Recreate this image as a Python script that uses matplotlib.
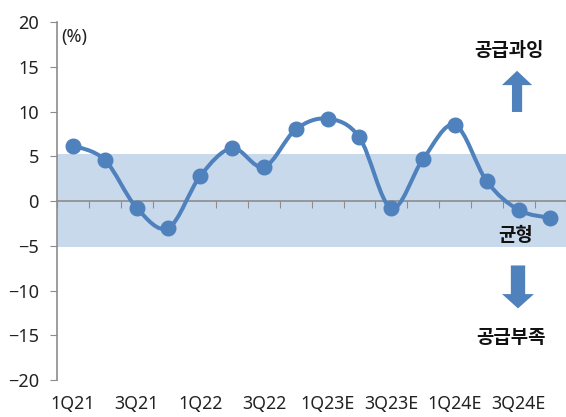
import matplotlib.pyplot as plt
from matplotlib.path import Path
from matplotlib.patches import PathPatch, FancyArrow
import numpy as np

quarters = ["1Q21", "2Q21", "3Q21", "4Q21", "1Q22", "2Q22", "3Q22", "4Q22",
            "1Q23E", "2Q23E", "3Q23E", "4Q23E", "1Q24E", "2Q24E", "3Q24E", "4Q24E"]
values = [6.2, 4.6, -0.75, -3.0, 2.8, 5.9, 3.8, 8.0,
          9.2, 7.1, -0.8, 4.7, 8.5, 2.2, -1.0, -1.9]
band_low, band_high = -5.1, 5.2
y_ticks = [-20, -15, -10, -5, 0, 5, 10, 15, 20]

blue = "#4F81BD"
band_color = "#C9D9EC"
axis_gray = "#8C8C8C"

plt.rcParams['font.family'] = ['Noto Sans', 'DejaVu Sans']


def smooth_path(xs, ys):
    # Catmull-Rom curve turned into cubic Bezier segments (like Excel smoothing)
    pts = np.column_stack([xs, ys])
    n = len(pts)
    verts = [pts[0]]
    codes = [Path.MOVETO]
    for i in range(n - 1):
        p0 = pts[max(i - 1, 0)]
        p1 = pts[i]
        p2 = pts[i + 1]
        p3 = pts[min(i + 2, n - 1)]
        c1 = p1 + (p2 - p0) / 6.0
        c2 = p2 - (p3 - p1) / 6.0
        verts += [c1, c2, p2]
        codes += [Path.CURVE4] * 3
    return Path(verts, codes)


fig = plt.figure(figsize=(5.66, 4.17), dpi=100)
ax = fig.add_axes([0.1007, 0.0887, 0.9, 0.8585])

x = np.arange(len(quarters))
ax.set_xlim(-0.5, len(quarters) - 0.5)
ax.set_ylim(-20, 20)

# balance band
ax.axhspan(band_low, band_high, color=band_color, zorder=0, lw=0)

# smoothed line + markers
ax.add_patch(PathPatch(smooth_path(x, values), fill=False, edgecolor=blue,
                       lw=2.9, zorder=3, capstyle='round', joinstyle='round'))
ax.plot(x, values, 'o', color=blue, markersize=10.5, zorder=4)

# axes styling
for side in ['top', 'right']:
    ax.spines[side].set_visible(False)
ax.spines['left'].set_color(axis_gray)
ax.spines['bottom'].set_color(axis_gray)
ax.spines['bottom'].set_position(('data', 0))
ax.spines['left'].set_linewidth(1.2)
ax.spines['bottom'].set_linewidth(1.2)

ax.set_yticks(y_ticks)
ax.set_yticklabels([str(v).replace('-', '\u2212') for v in y_ticks])
ax.tick_params(axis='y', direction='out', length=5, color=axis_gray,
               labelsize=13, labelcolor='#222222', pad=8)

ax.set_xticks(np.arange(len(quarters) + 1) - 0.5)
ax.set_xticklabels([])
ax.tick_params(axis='x', direction='out', length=5, color=axis_gray)

for i, q in enumerate(quarters):
    if i % 2 == 0:
        ax.text(i, -21.7, q, ha='center', va='top', fontsize=12.8,
                color='#222222', clip_on=False)

ax.text(-0.36, 18.3, "(%)", ha='left', va='center', fontsize=13, color='#222222')

# annotations
kr = ['Noto Sans CJK KR', 'DejaVu Sans']
ax.text(13.7, 16.8, "공급과잉", ha='center', va='center', fontsize=13.6,
        fontweight='bold', family=kr, color='#111111')
ax.text(13.9, -3.9, "균형", ha='center', va='center', fontsize=13.6,
        fontweight='bold', family=kr, color='#111111')
ax.text(13.76, -15.2, "공급부족", ha='center', va='center', fontsize=13.6,
        fontweight='bold', family=kr, color='#111111')

ax.add_patch(FancyArrow(13.95, 9.95, 0, 4.6, width=0.32, head_width=0.95,
                        head_length=1.6, length_includes_head=True,
                        color=blue, lw=0))
ax.add_patch(FancyArrow(13.98, -7.2, 0, -4.8, width=0.45, head_width=1.0,
                        head_length=1.6, length_includes_head=True,
                        color=blue, lw=0))

fig.savefig("out.png", dpi=100)
